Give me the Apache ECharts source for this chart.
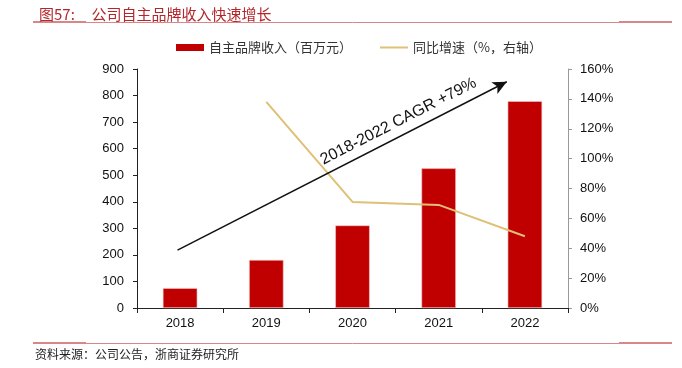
<!DOCTYPE html>
<html>
<head>
<meta charset="utf-8">
<script src="https://cdn.jsdelivr.net/npm/echarts@6/dist/echarts.min.js"></script>
<style>
  html, body { margin: 0; padding: 0; background: #fff; }
  #chart { width: 682px; height: 368px; }
</style>
</head>
<body>
<div id="chart"></div>
<script>
// data
const years = ['2018', '2019', '2020', '2021', '2022'];
const brandRevenue = [75, 181, 311, 526, 779];
const yoyGrowth = ['-', 138, 71, 69, 48];
const leftTicks = { min: 0, max: 900, interval: 100 };
const rightTicks = { min: 0, max: 160, interval: 20 };
const cagrText = '2018-2022 CAGR +79%';
// arrow ends: (category position, left axis value)
const cagrFrom = [-0.03, 218];
const cagrTo = [3.79, 852];

const RED = '#C00000';
const GOLD = '#DEC077';
const RULE = '#D9868A';
const cjk = '"Noto Sans CJK SC", sans-serif';
const latin = '"Liberation Sans", Arial, sans-serif';

const chart = echarts.init(document.getElementById('chart'));

chart.setOption({
  animation: false,
  title: {
    text: '图57:     公司自主品牌收入快速增长',
    left: 34,
    top: 2,
    textStyle: { color: '#B5262B', fontSize: 15, fontWeight: 'normal', fontFamily: cjk },
  },
  graphic: [
    { type: 'line', shape: { x1: 33, y1: 22.5, x2: 672, y2: 22.5 }, style: { stroke: RULE, lineWidth: 1 } },
    { type: 'line', shape: { x1: 33, y1: 22, x2: 86, y2: 22 }, style: { stroke: RULE, lineWidth: 2 } },
    { type: 'line', shape: { x1: 619, y1: 22, x2: 672, y2: 22 }, style: { stroke: RULE, lineWidth: 2 } },
    { type: 'line', shape: { x1: 33, y1: 343.5, x2: 672, y2: 343.5 }, style: { stroke: RULE, lineWidth: 1 } },
    { type: 'line', shape: { x1: 33, y1: 343, x2: 86, y2: 343 }, style: { stroke: RULE, lineWidth: 2 } },
    { type: 'line', shape: { x1: 619, y1: 343, x2: 672, y2: 343 }, style: { stroke: RULE, lineWidth: 2 } },
    {
      type: 'text',
      left: 35,
      top: 348,
      style: { text: '资料来源：公司公告，浙商证券研究所', fill: '#222', fontSize: 12, fontFamily: cjk },
    },
  ],
  legend: {
    left: 171,
    top: 36,
    itemGap: 28,
    itemWidth: 28,
    itemHeight: 7,
    itemStyle: { borderWidth: 0 },
    textStyle: { color: '#333', fontSize: 13, fontFamily: cjk },
    data: [
      { name: '自主品牌收入（百万元）', icon: 'rect' },
      { name: '同比增速（%，右轴）', icon: 'path://M0,0H28V2H0Z' },
    ],
  },
  grid: { left: 137, right: 114, top: 69, bottom: 60 },
  xAxis: [
    {
      type: 'category',
      data: years,
      axisLine: { lineStyle: { color: '#222', width: 1 } },
      axisTick: { show: true, length: 5, lineStyle: { color: '#222' } },
      axisLabel: { color: '#111', fontSize: 13, fontFamily: latin, margin: 9 },
    },
    // hidden helper axis so the CAGR arrow can sit between categories
    { type: 'value', min: -0.5, max: years.length - 0.5, show: false },
  ],
  yAxis: [
    {
      type: 'value',
      ...leftTicks,
      splitLine: { show: false },
      axisLine: { show: true, onZero: false, lineStyle: { color: '#222' } },
      axisTick: { show: true, length: 4, lineStyle: { color: '#222' } },
      axisLabel: { color: '#111', fontSize: 13, fontFamily: latin, margin: 13 },
    },
    {
      type: 'value',
      ...rightTicks,
      splitLine: { show: false },
      axisLine: { show: true, onZero: false, lineStyle: { color: '#999' } },
      axisTick: { show: true, length: 4, lineStyle: { color: '#999' } },
      axisLabel: { color: '#111', fontSize: 13, fontFamily: latin, margin: 12, formatter: '{value}%' },
    },
  ],
  series: [
    {
      name: '自主品牌收入（百万元）',
      type: 'bar',
      data: brandRevenue,
      barWidth: '40%',
      itemStyle: { color: RED, borderColor: '#F2C9C9', borderWidth: 0.6 },
    },
    {
      name: '同比增速（%，右轴）',
      type: 'line',
      yAxisIndex: 1,
      data: yoyGrowth,
      symbol: 'none',
      lineStyle: { color: GOLD, width: 2 },
      itemStyle: { color: GOLD },
    },
    {
      name: 'cagr',
      type: 'line',
      xAxisIndex: 1,
      yAxisIndex: 0,
      data: [],
      markLine: {
        silent: true,
        symbol: ['none', 'arrow'],
        symbolSize: [10, 14],
        lineStyle: { color: '#111', width: 1.5, type: 'solid' },
        label: {
          show: true,
          formatter: cagrText,
          position: 'insideEndTop',
          distance: [28, 6],
          color: '#111',
          fontSize: 16,
          fontFamily: latin,
        },
        data: [[{ coord: cagrFrom }, { coord: cagrTo }]],
      },
    },
  ],
});
</script>
</body>
</html>
